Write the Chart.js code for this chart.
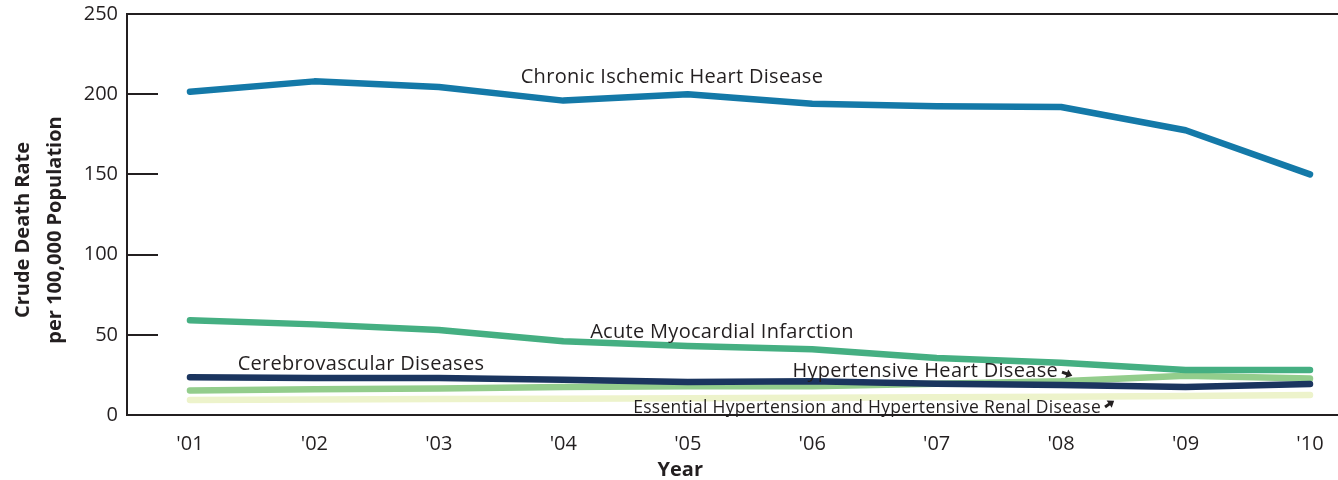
<!DOCTYPE html>
<html>
<head>
<meta charset="utf-8">
<script src="https://cdn.jsdelivr.net/npm/chart.js@4"></script>
<style>
  html, body { margin: 0; padding: 0; background: #fff; }
  #wrap { width: 1338px; height: 480px; }
</style>
</head>
<body>
<div id="wrap"><canvas id="chart" width="1338" height="480"></canvas></div>
<script>
// Year tick labels
const yearLabels = ["'01", "'02", "'03", "'04", "'05", "'06", "'07", "'08", "'09", "'10"];
const yTicks = [0, 50, 100, 150, 200, 250];

// Crude death rate per 100,000
const chronicIschemic = [201.5, 208, 204.5, 196, 200, 194, 192.5, 192, 177.5, 150];
const acuteMyocardial = [59, 56.5, 53, 46, 43, 41, 35.5, 32.5, 28, 28];
const cerebrovascular = [23.5, 23, 23, 22, 20.5, 21, 19.5, 18.7, 17.5, 19.3];
const hypertensiveHeart = [15.3, 16, 16.5, 17.5, 18, 18, 19.5, 21, 24.5, 22.7];
const essentialHypertension = [9.4, 9.6, 9.9, 10.2, 10.5, 10.8, 11.1, 11.4, 11.8, 12.5];

const ink = '#231f20';
const fontFam = '"Open Sans", "DejaVu Sans", sans-serif';

function toPoints(arr) {
    return arr.map((v, i) => ({ x: i + 1, y: v }));
}

function series(label, data, color) {
    return {
        label: label,
        data: toPoints(data),
        borderColor: color,
        backgroundColor: color,
        borderWidth: 6.5,
        borderCapStyle: 'round',
        borderJoinStyle: 'round',
        pointRadius: 0,
        tension: 0,
        fill: false
    };
}

// labels written next to the lines, in data coordinates
const lineNotes = [
    { text: 'Chronic Ischemic Heart Disease', x: 4.873, y: 210.7, align: 'center', size: 20 },
    { text: 'Acute Myocardial Infarction', x: 5.275, y: 51.7, align: 'center', size: 20 },
    { text: 'Cerebrovascular Diseases', x: 2.374, y: 31.8, align: 'center', size: 20 },
    { text: 'Hypertensive Heart Disease', x: 7.975, y: 27.4, align: 'right', size: 20, arrow: 'down' },
    { text: 'Essential Hypertension and Hypertensive Renal Disease', x: 8.321, y: 4.4, align: 'right', size: 17.5, arrow: 'up' }
];

function drawArrow(ctx, x, y, dir) {
    ctx.save();
    ctx.translate(x, y);
    ctx.rotate(dir === 'down' ? 0.35 : -0.6);
    ctx.fillStyle = ink;
    ctx.beginPath();
    ctx.moveTo(0, -1.5);
    ctx.lineTo(5, -1.5);
    ctx.lineTo(5, -4.5);
    ctx.lineTo(11, 0);
    ctx.lineTo(5, 4.5);
    ctx.lineTo(5, 1.5);
    ctx.lineTo(0, 1.5);
    ctx.closePath();
    ctx.fill();
    ctx.restore();
}

const framePlugin = {
    id: 'frame',
    afterDraw(chart) {
        const ctx = chart.ctx;
        const area = chart.chartArea;
        const ys = chart.scales.y;
        const xs = chart.scales.x;
        ctx.save();
        ctx.strokeStyle = ink;
        ctx.lineWidth = 2;
        // top line
        ctx.beginPath();
        ctx.moveTo(area.left - 1, area.top);
        ctx.lineTo(area.right, area.top);
        ctx.stroke();
        // inward tick marks
        yTicks.forEach(v => {
            if (v === 0 || v === 250) return;
            const py = Math.round(ys.getPixelForValue(v));
            ctx.beginPath();
            ctx.moveTo(area.left, py);
            ctx.lineTo(area.left + 31, py);
            ctx.stroke();
        });
        // line labels
        ctx.fillStyle = ink;
        ctx.textBaseline = 'middle';
        ctx.letterSpacing = '0.3px';
        lineNotes.forEach(n => {
            ctx.font = n.size + 'px ' + fontFam;
            ctx.textAlign = n.align;
            const px = xs.getPixelForValue(n.x);
            const py = ys.getPixelForValue(n.y);
            ctx.fillText(n.text, px, py);
            if (n.arrow) drawArrow(ctx, px + 4, py + (n.arrow === 'down' ? 1 : -1), n.arrow);
        });
        ctx.letterSpacing = '0px';
        // axis titles
        ctx.textAlign = 'center';
        ctx.font = 'bold 20px ' + fontFam;
        ctx.fillText('Year', xs.getPixelForValue(4.94), 470);
        ctx.translate(0, 230);
        ctx.rotate(-Math.PI / 2);
        ctx.fillText('Crude Death Rate', 0, 23);
        ctx.fillText('per 100,000 Population', 0, 55);
        ctx.restore();
    }
};

new Chart(document.getElementById('chart'), {
    type: 'line',
    data: {
        datasets: [
            series('Chronic Ischemic Heart Disease', chronicIschemic, '#1479a8'),
            series('Acute Myocardial Infarction', acuteMyocardial, '#45af82'),
            series('Cerebrovascular Diseases', cerebrovascular, '#1b355f'),
            series('Hypertensive Heart Disease', hypertensiveHeart, '#93cd8c'),
            series('Essential Hypertension and Hypertensive Renal Disease', essentialHypertension, '#edf3cb')
        ]
    },
    options: {
        responsive: false,
        animation: false,
        layout: { padding: { top: 14, right: 0, left: 0, bottom: 0 } },
        plugins: {
            legend: { display: false },
            tooltip: { enabled: false }
        },
        scales: {
            x: {
                type: 'linear',
                min: 0.494,
                max: 10.225,
                afterBuildTicks: axis => {
                    axis.ticks = yearLabels.map((_, i) => ({ value: i + 1 }));
                },
                afterFit: axis => {
                    axis.height = 65;
                    axis.paddingLeft = 0;
                    axis.paddingRight = 0;
                },
                grid: { display: false, drawTicks: false },
                border: { display: true, color: ink, width: 2 },
                ticks: {
                    color: ink,
                    font: { family: fontFam, size: 20 },
                    padding: 17,
                    maxRotation: 0,
                    autoSkip: false,
                    callback: (v) => yearLabels[Math.round(v) - 1] || ''
                }
            },
            y: {
                min: 0,
                max: 250,
                afterBuildTicks: axis => {
                    axis.ticks = yTicks.map(v => ({ value: v }));
                },
                afterFit: axis => {
                    axis.width = 127;
                    axis.paddingTop = 0;
                    axis.paddingBottom = 0;
                },
                grid: { display: false, drawTicks: false },
                border: { display: true, color: ink, width: 2 },
                ticks: {
                    color: ink,
                    font: { family: fontFam, size: 20 },
                    padding: 9
                }
            }
        }
    },
    plugins: [framePlugin]
});
</script>
</body>
</html>
